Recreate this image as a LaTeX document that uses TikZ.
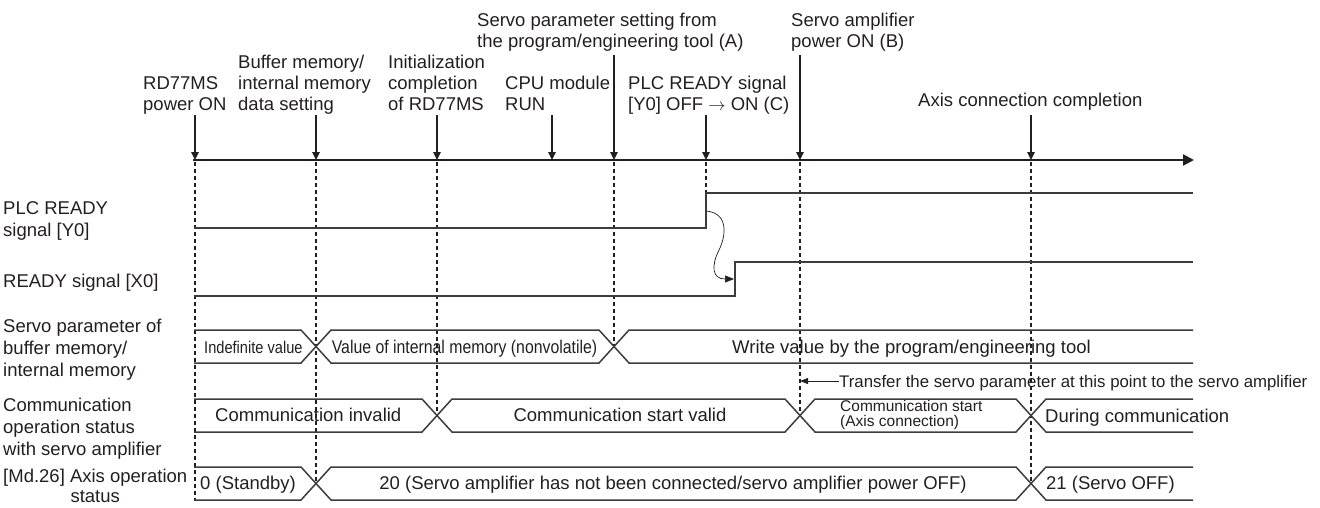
\documentclass[tikz,border=0pt]{standalone}
\usepackage{fontspec}
\setmainfont{Liberation Sans}
\newfontfamily\narrowfont[FakeStretch=0.86]{Liberation Sans}
\usetikzlibrary{arrows.meta}
\definecolor{ink}{RGB}{35,31,32}
\definecolor{wire}{RGB}{60,60,60}
\newcommand{\Lines}[1]{\begin{tabular}[t]{@{}l@{}}#1\end{tabular}}
\newcommand{\CLines}[1]{\begin{tabular}[t]{@{}c@{}}#1\end{tabular}}
\begin{document}
\begin{tikzpicture}[x=1pt,y=-1pt,
  lbl/.style={anchor=base west, inner sep=0pt, text=ink, font=\fontsize{18.5}{21}\selectfont},
  sidelbl/.style={lbl, font=\fontsize{18.5}{22}\selectfont},
  narrowlbl/.style={anchor=base west, inner sep=0pt, text=ink},
  smalllbl/.style={anchor=base west, inner sep=0pt, text=ink, font=\fontsize{15.5}{15}\selectfont},
  evarrow/.style={draw=ink, line width=1.1pt, -{Triangle[length=8pt,width=7.5pt]}},
  axisline/.style={draw=ink, line width=2.2pt, -{Triangle[length=11pt,width=11pt]}},
  guide/.style={draw=ink, line width=1.7pt, dash pattern=on 4pt off 3pt},
  sig/.style={draw=wire, line width=1.6pt},
  bus/.style={draw=wire, line width=1.5pt, line join=miter},
  curvearrow/.style={draw=ink, line width=0.7pt, -{Triangle[length=9pt,width=7pt]}},
  transferarrow/.style={draw=ink, line width=1pt, -{Triangle[length=8pt,width=6pt]}}
]
\useasboundingbox (0,0) rectangle (1320,507);

% ---------- time axis ----------
\coordinate (ax0) at (193,160);
\coordinate (ax1) at (1194,160);
\draw[axisline] (ax0) -- (ax1);

% ---------- event labels ----------
\node[lbl] (l1) at (143,89) {\Lines{RD77MS\\power ON}};
\node[lbl] (l2) at (238,68) {\Lines{Buffer memory/\\internal memory\\data setting}};
\node[lbl] (l3) at (388,68) {\Lines{Initialization\\completion\\of RD77MS}};
\node[lbl] (l4) at (505,89) {\Lines{CPU module\\RUN}};
\node[lbl] (l5) at (477,26.5) {\Lines{Servo parameter setting from\\the program/engineering tool (A)}};
\node[lbl] (l6) at (628,89) {\Lines{PLC READY signal\\{[Y0]} OFF $\rightarrow$ ON (C)}};
\node[lbl] (l7) at (791,26.5) {\Lines{Servo amplifier\\power ON (B)}};
\node[lbl] (l8) at (918,106) {Axis connection completion};

% ---------- event arrows ----------
\foreach \i/\x/\t in {1/195/115, 2/316/115, 3/437/115, 4/552/115, 5/614/55, 6/706/115, 7/800/55, 8/1031/115}{
  \coordinate (t\i) at (\x,\t);
  \coordinate (e\i) at (\x,160);
  \draw[evarrow] (t\i) -- (e\i);
}

% ---------- dashed guides ----------
\foreach \i/\x/\b in {1/195/500, 2/316/483.5, 3/437/415.5, 5/614/346.5, 6/706/193, 7/800/415.5, 8/1031/483.5}{
  \coordinate (g\i) at (\x,\b);
  \draw[guide] (\x,161.5) -- (g\i);
}

% ---------- side labels ----------
\node[sidelbl] (s1) at (3,214) {\Lines{PLC READY\\signal [Y0]}};
\node[sidelbl] (s2) at (3,287) {READY signal [X0]};
\node[sidelbl] (s3) at (3,332) {\Lines{Servo parameter of\\buffer memory/\\internal memory}};
\node[sidelbl] (s4) at (3,411) {\Lines{Communication\\operation status\\with servo amplifier}};
\node[lbl, font=\fontsize{18.5}{20}\selectfont] (s5) at (3,482) {\CLines{[Md.26] Axis operation\\status}};

% ---------- PLC READY [Y0] ----------
\draw[sig] (194,228) -- (706,228) -- (706,193) -- (1193,193);
% ---------- READY [X0] ----------
\draw[sig] (194,296) -- (735,296) -- (735,262) -- (1193,262);
% curved cause arrow
\coordinate (yrise) at (706,211);
\coordinate (xrise) at (734,279);
\draw[curvearrow] (yrise) .. controls (729,213) and (726,236) .. (719,250) .. controls (711,266) and (712,279) .. (xrise);

% ---------- servo parameter bus ----------
\draw[bus] (194,330) -- (301,330) -- (331,363) -- (599,363) -- (629,330) -- (1193,330);
\draw[bus] (194,363) -- (301,363) -- (331,330) -- (599,330) -- (629,363) -- (1193,363);
\node[narrowlbl, font=\narrowfont\fontsize{17}{18}\selectfont] (bt1) at (204,353) {Indefinite value};
\node[narrowlbl, anchor=base, font=\narrowfont\fontsize{18.4}{20}\selectfont] (bt2) at (464.5,353) {Value of internal memory (nonvolatile)};
\node[lbl] (bt3) at (732,353) {Write value by the program/engineering tool};

% ---------- transfer note ----------
\node[anchor=west, inner sep=0pt, text=ink, font=\fontsize{16.8}{18}\selectfont, text height=12.5pt, text depth=0pt] (tr) at (839,381) {Transfer the servo parameter at this point to the servo amplifier};
\coordinate (trtip) at (800,381);
\draw[transferarrow] (tr.west) -- (trtip);

% ---------- communication bus ----------
\draw[bus] (194,399) -- (422,399) -- (452,432) -- (785,432) -- (815,399) -- (1016,399) -- (1046,432) -- (1193,432);
\draw[bus] (194,432) -- (422,432) -- (452,399) -- (785,399) -- (815,432) -- (1016,432) -- (1046,399) -- (1193,399);
\node[lbl] (bc1) at (215,421.5) {Communication invalid};
\node[lbl, anchor=base] (bc2) at (620,421.5) {Communication start valid};
\node[smalllbl] (bc3) at (840,411) {\Lines{Communication start\\(Axis connection)}};
\node[lbl] (bc4) at (1045,422) {During communication};

% ---------- axis operation status bus ----------
\draw[bus] (194,467) -- (301,467) -- (331,500) -- (1016,500) -- (1046,467) -- (1193,467);
\draw[bus] (194,500) -- (301,500) -- (331,467) -- (1016,467) -- (1046,500) -- (1193,500);
\node[lbl] (bm1) at (200,489) {0 (Standby)};
\node[lbl, anchor=base] (bm2) at (673,489) {20 (Servo amplifier has not been connected/servo amplifier power OFF)};
\node[lbl] (bm3) at (1046,489) {21 (Servo OFF)};
\end{tikzpicture}
\end{document}
